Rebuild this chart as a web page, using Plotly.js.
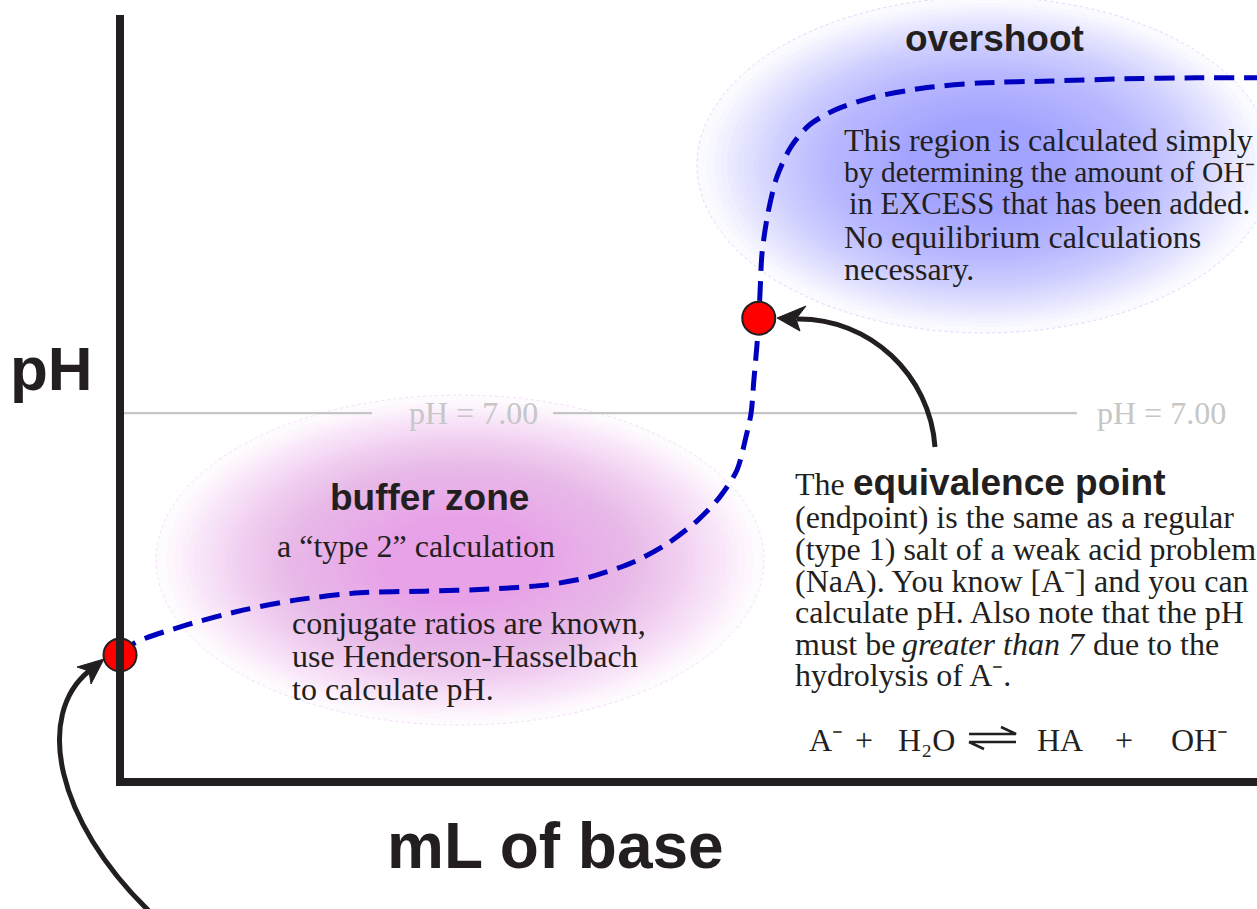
<!DOCTYPE html>
<html>
<head>
<meta charset="utf-8">
<script src="https://cdn.plot.ly/plotly-3.0.1.min.js"></script>
<style>html,body{margin:0;padding:0;background:#fff;}#chart{width:1257px;height:909px;}</style>
</head>
<body>
<div id="chart"></div>
<script>
// ---- data ----
const mL_base = [0, 0.58, 2.61, 4.81, 6.85, 9.39, 11.94, 14.48, 16.71, 18.40, 20.08, 21.45, 22.62, 23.48, 24.15, 24.50, 24.70, 24.81, 24.93, 25.00, 25.05, 25.13, 25.36, 25.71, 26.26, 26.97, 27.98, 29.39, 31.51, 33.62, 36.48, 39.30, 42.11, 44.50];
const pH_curve = [2.41, 2.64, 2.98, 3.26, 3.45, 3.59, 3.62, 3.66, 3.74, 3.89, 4.17, 4.53, 4.97, 5.41, 5.92, 6.55, 7.00, 7.63, 8.29, 8.80, 9.28, 10.04, 10.79, 11.48, 12.05, 12.46, 12.75, 12.98, 13.17, 13.26, 13.30, 13.34, 13.36, 13.36];
const keyPoint_mL = [0, 25.00];
const keyPoint_pH = [2.41, 8.80];
const neutral_pH = 7.00;
const neutralLabel = 'pH = 7.00';

// ---- layout helpers (pixel -> axis units, for decorations only) ----
const W = 1257, H = 909;
const OX = 120, OY = 782, SX = 25.55, SY = 52.71;
const X = px => (px - OX) / SX;
const Y = py => (OY - py) / SY;
const INK = '#231f20';
const SERIF = 'Liberation Serif, Times New Roman, serif';
const SANS = 'Liberation Sans, Arial, Helvetica, sans-serif';

const shapes = [];
function glow(cx, cy, rx, ry, rgb) {
  const N = 60, a = 0.042;
  for (let k = 0; k < N; k++) {
    const s = 1 - 0.9 * Math.pow(k / N, 0.8);
    shapes.push({type: 'circle', xref: 'x', yref: 'y', layer: 'below',
      x0: X(cx - rx * s), x1: X(cx + rx * s), y0: Y(cy + ry * s), y1: Y(cy - ry * s),
      fillcolor: `rgba(${rgb},${a})`, line: {width: 0}});
  }
  shapes.push({type: 'circle', xref: 'x', yref: 'y', layer: 'below',
    x0: X(cx - rx), x1: X(cx + rx), y0: Y(cy + ry), y1: Y(cy - ry),
    fillcolor: 'rgba(0,0,0,0)', line: {width: 0.6, color: `rgba(${rgb},0.6)`, dash: 'dot'}});
}
glow(985, 165, 288, 168, '155,155,250');
glow(460, 560, 304, 165, '226,160,238');

// axes (drawn as thick lines)
shapes.push({type: 'line', xref: 'x', yref: 'y', x0: X(120), x1: X(120), y0: Y(786), y1: Y(15), line: {color: INK, width: 8}});
shapes.push({type: 'line', xref: 'x', yref: 'y', x0: X(116), x1: X(1262), y0: Y(782), y1: Y(782), line: {color: INK, width: 8}});

const P = (x, y) => `${X(x)},${Y(y)}`;
// curved arrows
shapes.push({type: 'path', xref: 'x', yref: 'y', path: `M${P(935,447)} C${P(930,375)} ${P(870,318)} ${P(797,319)}`, line: {color: INK, width: 5}});
shapes.push({type: 'path', xref: 'x', yref: 'y', path: `M${P(777,318)} L${P(806,306)} L${P(796,319)} L${P(800,331)} Z`, fillcolor: INK, line: {color: INK, width: 1}});
shapes.push({type: 'path', xref: 'x', yref: 'y', path: `M${P(150,912)} C${P(55,820)} ${P(35,715)} ${P(89,671)}`, line: {color: INK, width: 5}});
shapes.push({type: 'path', xref: 'x', yref: 'y', path: `M${P(104,659)} L${P(77,667)} L${P(89,671)} L${P(91,684)} Z`, fillcolor: INK, line: {color: INK, width: 1}});
// equilibrium harpoons
shapes.push({type: 'path', xref: 'x', yref: 'y', path: `M${P(969,734)} L${P(1016,734)} L${P(1001,727)} M${P(969,742)} L${P(1016,742)} M${P(969,742)} L${P(984,749)}`, line: {color: INK, width: 2.5}});

const traces = [
  {x: [0, X(372), null, X(553), X(1077)], y: [neutral_pH, neutral_pH, null, neutral_pH, neutral_pH],
   mode: 'lines', line: {color: '#c6c6c6', width: 2.2}, hoverinfo: 'skip', showlegend: false},
  {x: mL_base, y: pH_curve, mode: 'lines', line: {color: '#0000bf', width: 5, dash: '20px,10px', shape: 'spline', smoothing: 0.8},
   showlegend: false},
  {x: keyPoint_mL, y: keyPoint_pH, mode: 'markers', cliponaxis: false,
   marker: {size: 33, color: '#ff0000', line: {color: INK, width: 2}}, showlegend: false}
];

const ann = [];
function T(text, px, py, size, opts) {
  ann.push(Object.assign({text: text, x: X(px), y: Y(py), xref: 'x', yref: 'y', showarrow: false,
    xanchor: 'left', yanchor: 'middle', font: {family: SERIF, size: size, color: INK}}, opts || {}));
}
const bold = (s, px, py, size, anchor) => T(s, px, py, size, {xanchor: anchor || 'center', font: {family: SANS, size: size, color: INK, weight: 'bold'}});

bold('pH', 51, 368, 62);
bold('mL of base', 555, 846, 64);
bold('overshoot', 994, 38, 37);
bold('buffer zone', 429, 497, 37);
bold('equivalence point', 851, 482, 37, 'left');

T(neutralLabel, 473, 413, 32, {xanchor: 'center', font: {family: SERIF, size: 32, color: '#c6c6c6'}});
T(neutralLabel, 1161, 413, 32, {xanchor: 'center', font: {family: SERIF, size: 32, color: '#c6c6c6'}});

T('This region is calculated simply', 842, 140, 32);
T('by determining the amount of OH\u207b', 842, 172, 29.5);
T('in EXCESS that has been added.', 847, 204, 30.6);
T('No equilibrium calculations', 842, 237, 32);
T('necessary.', 842, 269, 32);

T('a \u201ctype 2\u201d calculation', 416, 546, 32, {xanchor: 'center'});
T('conjugate ratios are known,', 290, 623, 32);
T('use Henderson-Hasselbach', 290, 656, 32);
T('to calculate pH.', 290, 689, 32);

T('The', 793, 484, 32);
T('(endpoint) is the same as a regular', 793, 517, 32);
T('(type 1) salt of a weak acid problem', 793, 549, 32);
T('(NaA). You know [A\u207b] and you can', 793, 581, 32);
T('calculate pH. Also note that the pH', 793, 612, 32);
T('must be', 793, 644, 32);
T('greater than 7', 900, 644, 32, {font: {family: SERIF, size: 32, color: INK, style: 'italic'}});
T('due to the', 1091, 644, 32);
T('hydrolysis of A\u207b.', 793, 675, 32);

T('A\u207b', 807, 740, 32);
T('+', 864, 740, 32, {xanchor: 'center'});
T('H\u2082O', 896, 740, 32);
T('HA', 1035, 740, 32);
T('+', 1124, 740, 32, {xanchor: 'center'});
T('OH\u207b', 1169, 740, 32);

const layout = {
  width: W, height: H, margin: {l: 0, r: 0, t: 0, b: 0},
  paper_bgcolor: '#ffffff', plot_bgcolor: '#ffffff',
  xaxis: {range: [X(0), X(W)], visible: false, fixedrange: true},
  yaxis: {range: [Y(H), Y(0)], visible: false, fixedrange: true},
  shapes: shapes, annotations: ann, showlegend: false
};
Plotly.newPlot('chart', traces, layout, {staticPlot: true});
</script>
</body>
</html>
